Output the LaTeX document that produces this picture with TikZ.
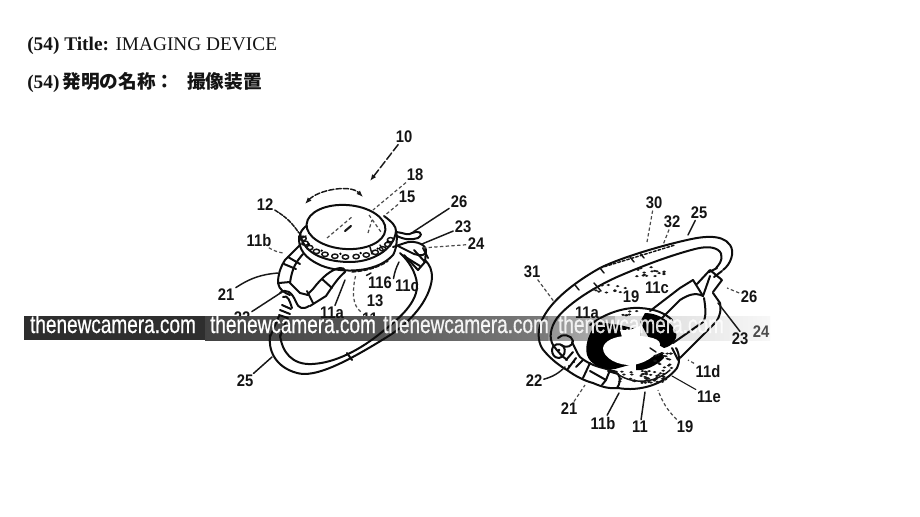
\documentclass[tikz,border=0pt]{standalone}
\usepackage{fontspec}
\setmainfont{Liberation Serif}
\newfontfamily\cjk{Noto Sans CJK JP}
\newfontfamily\labfont[FakeStretch=0.88]{Liberation Sans Bold}
\newfontfamily\wmfont[FakeStretch=0.75,FakeBold=0.6]{Liberation Sans}
\usetikzlibrary{arrows.meta}
\tikzset{
  lab/.style={font=\labfont\fontsize{12.6}{13}\selectfont,inner sep=1pt,text=black!92},
  head/.style={font=\fontsize{14.5}{16}\selectfont,anchor=base west,inner sep=0pt,text=black!92},
  ln/.style={line width=1.5pt,line join=round,line cap=round,black!95},
  thin ln/.style={line width=1.1pt,line join=round,line cap=round,black!92},
  lead/.style={line width=1.1pt,line cap=round,black!90},
  dlead/.style={line width=.9pt,dash pattern=on 2.5pt off 1.8pt,black!70},
  wm/.style={font=\wmfont\fontsize{19}{20}\selectfont,inner sep=0pt,anchor=base}
}
\newcommand{\specks}[5]{%
  \foreach \i in {1,...,#1}{%
    \pgfmathsetmacro{\px}{#2+#4*rand}%
    \pgfmathsetmacro{\py}{#3+#5*rand}%
    \fill[black!90] (\px,\py) ellipse [x radius=1.9,y radius=1.1];
  }}
\begin{document}
\begin{tikzpicture}[x=.75pt,y=-.75pt]
\useasboundingbox (0,0) rectangle (920,517);
\fill[white] (0,0) rectangle (920,517);
\pgfmathsetseed{11}

% ---------- heading
\node[head] (t1) at (27,50.5) {\textbf{(54) Title:} IMAGING DEVICE};
\node[head] (t2) at (27,89) {\textbf{(54)}\hspace{2.2pt}{\cjk\bfseries\fontsize{14}{16}\selectfont 発明の名称：\hspace{9.5pt}撮像装置}};

% ---------- labels partly hidden by the band
\node[lab] (n22L) at (242,318) {22};
\node[lab] (n11L) at (370,319) {11};

% ---------- band
\fill[black!82] (24,316) rectangle (205,340);
\shade[left color=black!74,right color=black!66] (205,316) rectangle (385,340);
\shade[left color=black!64,right color=black!52] (385,316) rectangle (548,340);
\shade[left color=black!42,right color=black!30] (548,316) rectangle (615,340);
\shade[left color=black!16,right color=black!3] (615,316) rectangle (770,340);

% ---------- LEFT FIGURE
% lens and bezel
\draw[ln,rotate around={-4:(346,227)}] (346,227) ellipse [x radius=39.5,y radius=22];
\draw[ln] (300,233) .. controls (303,256) and (330,262) .. (350,262) .. controls (372,262) and (394,250) .. (396,231);
\draw[ln] (299,236) .. controls (298,250) and (306,258) .. (318,264) .. controls (335,273) and (375,275) .. (393,255) .. controls (396,250) and (398,240) .. (396,231);
\draw[ln] (306,226) .. controls (302,230) and (300,232) .. (300,236);
\draw[ln] (384,216) .. controls (392,222) and (396,226) .. (396,231);
% scallops in the bezel
\foreach \a in {8,22,36,50,64,78,92,106,120,134,148,162,176}{
  \draw[thin ln] ({347+44*cos(\a)},{237+20*sin(\a)}) ellipse [x radius=3.2,y radius=2.2];
}
\foreach \a in {15,43,71,99,127,155}{
  \fill ({347+42*cos(\a)},{237+17*sin(\a)}) circle [radius=1.3];
}
\draw[thin ln] (370,247) -- (372,254) (380,245) -- (384,251) (302,238) -- (306,236);
% strokes on the lens
\draw[dlead] (327,238) -- (353,216);
\draw[lead,line width=1.6pt] (345,231) -- (351,226);
\draw[dlead] (368,233) -- (372,220) (369,215) -- (381,232);
% rim dashes
\draw[thin ln,dash pattern=on 3pt off 1.5pt] (352,272) .. controls (365,271) and (378,268) .. (388,261);

% strap (loop)
\draw[ln] (270,335) .. controls (268,350) and (275,367) .. (297,373) .. controls (315,378) and (345,363) .. (387,337) .. controls (410,323) and (430,300) .. (432,278) .. controls (432,270) and (430,265) .. (425,260);
\draw[ln] (280,335) .. controls (282,352) and (292,365) .. (312,364) .. controls (335,363) and (360,350) .. (382,332) .. controls (400,318) and (418,302) .. (417,284) .. controls (416,272) and (408,260) .. (400,253);
\draw[ln] (347,353) -- (352,360);
\draw[ln] (270,337) -- (279,316);
\draw[ln] (280,337) -- (287,318);
% coil
\draw[ln] (282,305) -- (291,309) (280,310) -- (290,314) (279,315) -- (288,318);
% chain on the left
\draw[ln] (301,244) -- (285,260) .. controls (280,268) and (278,275) .. (278,283) .. controls (279,290) and (285,293) .. (290,295);
\draw[ln] (303,254) .. controls (296,262) and (292,268) .. (290,283);
\draw[ln] (288,257) -- (300,264) (284,264) -- (296,269) (279,283) -- (290,282);
\draw[ln] (290,283) -- (300,293) -- (308,295);
% buckle
\draw[ln] (280,293) .. controls (286,288) and (292,292) .. (296,302) .. controls (298,308) and (303,310) .. (309,306);
\draw[ln] (283,297) .. controls (288,294) and (290,302) .. (292,308);
\draw[ln] (307,291) -- (313,303);
% finger-shaped part
\draw[ln] (340,268) .. controls (332,269) and (322,277) .. (313,289) -- (307,295);
\draw[ln] (345,272) .. controls (345,268) and (342,268) .. (340,268);
\draw[ln] (345,272) .. controls (338,278) and (334,284) .. (326,296) -- (310,306);
\draw[ln] (322,279) -- (332,288);
% right-hand attachment
\draw[ln] (396,232) .. controls (405,233) and (408,236) .. (412,233) .. controls (418,230) and (425,233) .. (418,238) .. controls (412,240) and (405,240) .. (397,236);
\draw[ln] (393,247) -- (405,243) .. controls (412,240) and (425,243) .. (426,250) .. controls (427,256) and (420,256) .. (414,254) -- (396,245);
\draw[ln] (404,255) -- (418,270) -- (425,262) -- (414,250);
\draw[ln] (407,258) -- (420,266) (426,250) -- (425,262);
\draw[ln] (423,248) -- (428,258);

% ---------- RIGHT FIGURE
% loop strap
\draw[ln] (723,270) .. controls (731,264) and (735,252) .. (730,245) .. controls (722,233) and (700,237) .. (687,240) .. controls (660,246) and (620,258) .. (600,268) .. controls (575,282) and (552,300) .. (543,318) .. controls (536,332) and (538,345) .. (545,352);
\draw[ln] (716,268) .. controls (722,262) and (724,254) .. (718,250) .. controls (712,246) and (703,247) .. (695,249) .. controls (668,256) and (640,267) .. (617,277) .. controls (595,287) and (570,302) .. (557,318) .. controls (550,328) and (549,338) .. (553,345);
\foreach \x/\y in {575/285,600/268,630/257,640/253}{\draw[thin ln] (\x,\y) -- ++(4,5);}
\draw[thin ln] (594,283) -- (601,291);
\draw[thin ln,dash pattern=on 2pt off 1.5pt] (600,268) -- (675,245);
% chain
\draw[ln] (545,352) .. controls (552,360) and (560,366) .. (567,370) .. controls (575,376) and (585,381) .. (593,383) .. controls (602,387) and (610,389) .. (618,388);
\draw[ln] (572,342) .. controls (575,348) and (577,353) .. (580,357) .. controls (587,363) and (595,366) .. (603,368) -- (617,372);
\draw[ln] (553,345) .. controls (558,352) and (562,356) .. (567,360);
\draw[ln] (552,350) .. controls (553,343) and (560,343) .. (563,346) .. controls (567,350) and (564,358) .. (559,358) .. controls (554,358) and (552,354) .. (552,350);
\draw[ln] (558,338) .. controls (562,333) and (572,335) .. (573,341) .. controls (573,346) and (566,349) .. (561,345);
\draw[ln] (566,360) -- (573,352) (567,370) -- (576,358) (576,367) -- (583,360);
\draw[ln] (583,378) -- (590,363) (590,371) -- (606,380) -- (602,385) (606,380) -- (610,370);
\draw[ln] (608,371) -- (618,374) .. controls (621,378) and (620,384) .. (617,388);
\fill (559,350) circle [radius=1.4] (574,362) circle [radius=1.2] (569,366) circle [radius=1.2];
% ring
\draw[ln] (590,325) .. controls (605,313) and (625,307) .. (640,308) .. controls (655,309) and (665,313) .. (672,320);
\draw[ln] (618,388) .. controls (640,392) and (665,384) .. (677,368) .. controls (680,362) and (680,355) .. (676,348);
% black areas with the hole cut out
\fill[black] (598,322) .. controls (590,330) and (584,345) .. (587,355) .. controls (590,365) and (603,370) .. (615,369) -- (640,362) -- (640,330) -- (620,325) -- cycle;
\fill[black] (645,313) .. controls (657,313) and (670,320) .. (676,332) .. controls (678,340) and (672,346) .. (664,348) -- (650,340) -- (640,322) -- cycle;
\fill[black] (636,364) -- (662,352) -- (664,358) .. controls (656,366) and (645,371) .. (636,370) -- cycle;
\fill[white] (603,348) .. controls (604,341) and (615,336) .. (627,336) .. controls (640,335) and (660,337) .. (660,344) .. controls (660,352) and (650,362) .. (633,365) .. controls (618,366) and (603,358) .. (603,348) -- cycle;
\fill[white] (630,330) -- (620,330) -- (622,337) -- (640,337) -- (640,326) -- cycle;
% bottom speckles
\specks{48}{640}{377}{26}{7}
\specks{18}{664}{361}{9}{8}
\draw[thin ln] (615,372) .. controls (630,385) and (655,384) .. (670,370);
\draw[thin ln] (650,348) -- (656,352);
\specks{6}{627}{314}{10}{3}
% right lugs
\draw[ln] (650,311) -- (680,288) -- (693,280);
\draw[ln] (660,320) -- (680,300) .. controls (688,295) and (695,292) .. (703,296);
\draw[ln] (693,280) -- (703,296) (697,284) -- (710,270) -- (722,280) -- (713,292);
\draw[ln] (703,296) -- (710,276);
\draw[ln] (709,272) -- (717,268) (714,277) -- (722,271);
\draw[ln] (713,293) -- (720,303) .. controls (722,312) and (718,320) .. (715,323) -- (680,358);
\draw[ln] (704,298) .. controls (706,310) and (706,318) .. (703,322) -- (673,343);
\draw[ln] (672,348) -- (678,360);
% dotted patches
\specks{16}{650}{272}{17}{5}
\specks{11}{610}{289}{17}{4}

% ---------- band text (above the lines)
\node[wm,text=white] (w1) at (113,333) {thenewcamera.com};
\node[wm,text=white] (w2) at (293,333) {thenewcamera.com};
\node[wm,text=white,opacity=.92] (w3) at (466,333) {thenewcamera.com};
\node[wm,text=white,opacity=.85] (w4) at (641,333) {thenewcamera.com};

% ---------- labels, left
\node[lab] (n10L) at (404,137) {10};
\node[lab] (n18L) at (415,175) {18};
\node[lab] (n15L) at (407,197) {15};
\node[lab] (n26L) at (459,202) {26};
\node[lab] (n23L) at (463,227) {23};
\node[lab] (n24L) at (476,244) {24};
\node[lab] (n12L) at (265,205) {12};
\node[lab] (n11bL) at (259,240) {11b};
\node[lab] (n21L) at (226,295) {21};
\node[lab] (n116L) at (380,283) {116};
\node[lab] (n11cL) at (407,286) {11c};
\node[lab] (n13L) at (375,301) {13};
\node[lab] (n11aL) at (332,313) {11a};
\node[lab] (n25L) at (245,381) {25};
% free ends, left
\coordinate (a10L) at (370,181);
\coordinate (a18L) at (373,210);
\coordinate (a15L) at (384,216);
\coordinate (a26L) at (413,232);
\coordinate (a23L) at (422,244);
\coordinate (a24L) at (422,248);
\coordinate (a12L) at (299,233);
\coordinate (a11bL) at (283,253);
\coordinate (a21L) at (278,273);
\coordinate (a22L) at (282,292);
\coordinate (a116L) at (371,273);
\coordinate (a11cL) at (399,262);
\coordinate (a11L) at (356,274);
\coordinate (a11aL) at (345,280);
\coordinate (a25L) at (272,357);
\coordinate (rotA) at (305,204);
\coordinate (rotB) at (363,197);
\draw[lead,-{Latex[length=5pt]},dash pattern=on 6pt off 2pt] (n10L) -- (a10L);
\draw[dlead] (n18L) -- (a18L);
\draw[dlead] (n15L) -- (a15L);
\draw[lead] (n26L) -- (a26L);
\draw[lead] (n23L) -- (a23L);
\draw[dlead] (n24L) -- (a24L);
\draw[lead,dash pattern=on 3pt off 1pt] (n12L) to[bend left=12] (a12L);
\draw[dlead] (n11bL) to[bend right=10] (a11bL);
\draw[lead] (n21L) to[bend left=14] (a21L);
\draw[lead] (n22L) -- (a22L);
\draw[lead] (n116L.north west) -- (a116L);
\draw[lead] (n11cL.north west) to[bend left=8] (a11cL);
\draw[dlead] (n11L) .. controls (352,305) and (352,290) .. (a11L);
\draw[lead] (n11aL) -- (a11aL);
\draw[lead] (n25L) -- (a25L);
\draw[lead,{Latex[length=5pt]}-{Latex[length=5pt]},dash pattern=on 4pt off 1.5pt] (rotA) .. controls (318,190) and (350,184) .. (rotB);

% ---------- labels, right
\node[lab] (n30R) at (654,203) {30};
\node[lab] (n32R) at (672,222) {32};
\node[lab] (n25R) at (699,213) {25};
\node[lab] (n31R) at (532,272) {31};
\node[lab] (n11cR) at (657,288) {11c};
\node[lab] (n19Ra) at (631,297) {19};
\node[lab] (n26R) at (749,297) {26};
\node[lab] (n11aR) at (587,313) {11a};
\node[lab] (n23R) at (740,339) {23};
\node[lab,text=black!70] (n24R) at (761,332) {24};
\node[lab] (n22R) at (534,381) {22};
\node[lab] (n21R) at (569,409) {21};
\node[lab] (n11bR) at (603,423) {11b};
\node[lab] (n11R) at (640,427) {11};
\node[lab] (n19Rb) at (685,427) {19};
\node[lab] (n11eR) at (709,397) {11e};
\node[lab] (n11dR) at (708,371) {11d};
% free ends, right
\coordinate (a30R) at (647,242);
\coordinate (a32R) at (663,245);
\coordinate (a25R) at (688,235);
\coordinate (a31R) at (555,303);
\coordinate (a26R) at (727,288);
\coordinate (a23R) at (718,303);
\coordinate (a22R) at (565,367);
\coordinate (a21R) at (585,385);
\coordinate (a11bR) at (619,393);
\coordinate (a11R) at (645,392);
\coordinate (a19R) at (658,390);
\coordinate (a11eR) at (672,376);
\coordinate (a11dR) at (688,360);
\draw[dlead] (n30R) -- (a30R);
\draw[dlead] (n32R) -- (a32R);
\draw[lead] (n25R) -- (a25R);
\draw[dlead] (n31R) -- (a31R);
\draw[dlead] (n26R) -- (a26R);
\draw[lead] (n23R.north) -- (a23R);
\draw[lead] (n22R) to[bend right=14] (a22R);
\draw[dlead] (n21R) -- (a21R);
\draw[lead] (n11bR) -- (a11bR);
\draw[lead] (n11R) -- (a11R);
\draw[dlead] (n19Rb) to[bend left=12] (a19R);
\draw[lead,line width=.8pt] (n11eR) -- (a11eR);
\draw[dlead] (n11dR) -- (a11dR);
\end{tikzpicture}
\end{document}
